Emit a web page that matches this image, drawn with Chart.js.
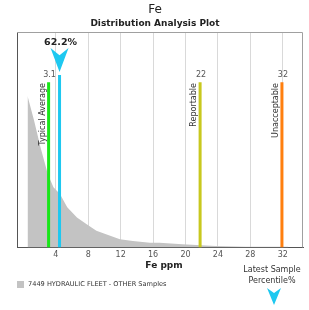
<!DOCTYPE html>
<html>
<head>
<meta charset="utf-8">
<script src="https://cdn.jsdelivr.net/npm/chart.js@4"></script>
<style>
  html, body { margin: 0; padding: 0; background: #fff; }
  #wrap { width: 309px; height: 310px; }
</style>
</head>
<body>
<div id="wrap"><canvas id="distChart" width="309" height="310"></canvas></div>
<script>
// distribution curve (Fe ppm vs relative sample density)
const distX = [0.5, 1.3, 2.1, 3.0, 3.7, 4.5, 5.4, 6.6, 7.8, 9.0, 10.7, 11.9, 13.5, 15.6, 16.8, 19.6, 23.7, 27.4, 32.7];
const distY = [70.3, 59, 46.5, 34.1, 27.9, 24.8, 18.6, 13.9, 10.8, 7.7, 5.4, 3.8, 3.0, 2.2, 2.2, 1.5, 0.7, 0.3, 0.3];

// limit lines
const limitNames = ['Typical Average', 'Reportable', 'Unacceptable'];
const limitValues = [3.1, 21.8, 31.9];
const limitLabels = ['3.1', '22', '32'];
const limitColors = ['#19e619', '#c8c81e', '#ff7f0e'];
const limitTop = 76.7;

// latest sample
const sampleValue = 4.45;
const samplePercentile = '62.2%';

const tickVals = [4, 8, 12, 16, 20, 24, 28, 32];
const seriesName = '7449 HYDRAULIC FLEET - OTHER Samples';

const FONT = '"DejaVu Sans", sans-serif';

const datasets = [{
  label: seriesName,
  data: distX.map((x, i) => ({ x: x, y: distY[i] })),
  fill: 'origin',
  backgroundColor: '#c3c3c3',
  borderWidth: 0,
  pointRadius: 0,
  order: 10
}];
limitValues.forEach((v, i) => {
  datasets.push({
    label: limitNames[i],
    data: [{ x: v, y: 0 }, { x: v, y: limitTop }],
    borderColor: limitColors[i],
    borderWidth: 3,
    pointRadius: 0,
    fill: false,
    order: 1
  });
});
datasets.push({
  label: 'Latest Sample',
  data: [{ x: sampleValue, y: 0 }, { x: sampleValue, y: 80 }],
  borderColor: '#1ec8f0',
  borderWidth: 3,
  pointRadius: 0,
  fill: false,
  order: 0
});

function arrow(ctx, cx, top, w, h) {
  ctx.beginPath();
  ctx.moveTo(cx - w / 2, top);
  ctx.lineTo(cx, top + h * 0.3);
  ctx.lineTo(cx + w / 2, top);
  ctx.lineTo(cx, top + h);
  ctx.closePath();
  ctx.fillStyle = '#1ec8f0';
  ctx.fill();
}

const extras = {
  id: 'extras',
  afterDatasetsDraw(chart) {
    const ctx = chart.ctx;
    const xs = chart.scales.x;
    const ca = chart.chartArea;
    ctx.save();
    // frame
    ctx.strokeStyle = '#a0a0a0';
    ctx.lineWidth = 1;
    ctx.beginPath();
    ctx.moveTo(ca.left, ca.top + 0.5);
    ctx.lineTo(ca.right - 0.5, ca.top + 0.5);
    ctx.lineTo(ca.right - 0.5, ca.bottom);
    ctx.stroke();

    // titles
    ctx.fillStyle = '#222';
    ctx.textAlign = 'center';
    ctx.textBaseline = 'middle';
    ctx.font = '12px ' + FONT;
    ctx.fillText('Fe', 155, 10);
    ctx.font = 'bold 9px ' + FONT;
    ctx.fillText('Distribution Analysis Plot', 155, 24);

    // limit labels
    limitValues.forEach((v, i) => {
      const px = xs.getPixelForValue(v);
      ctx.fillStyle = '#555';
      ctx.font = '8px ' + FONT;
      ctx.textAlign = 'center';
      ctx.fillText(limitLabels[i], px + 1, 75);
      ctx.save();
      ctx.translate(px - 6, 83);
      ctx.rotate(-Math.PI / 2);
      ctx.textAlign = 'right';
      ctx.fillStyle = '#333';
      ctx.font = '8px ' + FONT;
      ctx.fillText(limitNames[i], 0, 0);
      ctx.restore();
    });

    // sample marker
    const sx = xs.getPixelForValue(sampleValue);
    arrow(ctx, sx, 48, 18, 24);
    ctx.fillStyle = '#222';
    ctx.font = 'bold 9.5px ' + FONT;
    ctx.textAlign = 'center';
    ctx.fillText(samplePercentile, sx + 1, 43);

    // axis title
    ctx.font = 'bold 9px ' + FONT;
    ctx.fillText('Fe ppm', 164, 266);

    // legend
    ctx.fillStyle = '#c3c3c3';
    ctx.fillRect(17, 281, 7, 7);
    ctx.fillStyle = '#333';
    ctx.font = '6.6px ' + FONT;
    ctx.textAlign = 'left';
    ctx.fillText(seriesName, 28, 284.5);

    // latest sample key
    ctx.textAlign = 'center';
    ctx.font = '8px ' + FONT;
    ctx.fillText('Latest Sample', 272, 270);
    ctx.fillText('Percentile%', 272, 281);
    arrow(ctx, 274, 288, 14, 17);
    ctx.restore();
  }
};

new Chart(document.getElementById('distChart'), {
  type: 'line',
  data: { datasets: datasets },
  options: {
    responsive: false,
    animation: false,
    layout: { padding: { top: 32, left: 17, right: 6, bottom: 47 } },
    plugins: {
      legend: { display: false },
      tooltip: { enabled: false },
      title: { display: false }
    },
    scales: {
      x: {
        type: 'linear',
        min: -0.8,
        max: 34.5,
        afterBuildTicks: s => { s.ticks = tickVals.map(v => ({ value: v })); },
        ticks: { color: '#555', font: { family: FONT, size: 8 }, padding: 3 },
        grid: { color: '#d9d9d9', drawTicks: false },
        border: { color: '#555', width: 1 }
      },
      y: {
        min: 0,
        max: 100,
        display: true,
        ticks: { display: false },
        grid: { display: false, drawTicks: false },
        border: { color: '#555', width: 1 }
      }
    }
  },
  plugins: [extras]
});
</script>
</body>
</html>
